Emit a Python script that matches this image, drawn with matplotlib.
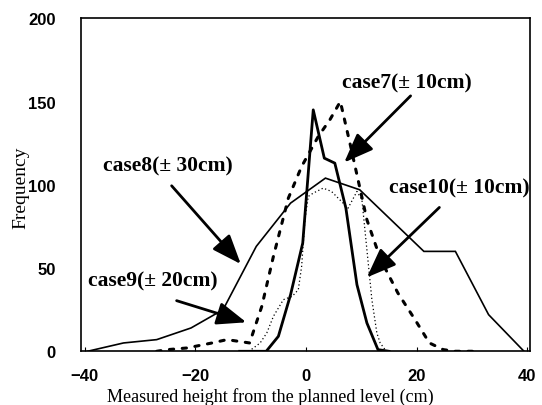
import matplotlib
matplotlib.use("Agg")
import matplotlib.pyplot as plt

# case8 (±30cm) thin solid
case8_x = [-39.5, -33, -27, -20.8, -15, -9, -2.8, 3.5, 9.7, 15.5, 21.3, 27.0, 33.0, 39.4]
case8_y = [0, 5, 7, 14, 25, 63, 89, 104, 97, 78.5, 60, 60, 22, 0]

# case7 (±10cm) thick solid
case7_x = [-12, -7.2, -5, -2.8, -0.6, 1.3, 3.3, 5.2, 7.2, 9.2, 11, 13, 15]
case7_y = [0, 0, 9, 34, 65, 145, 116, 113, 86, 40, 17, 1, 0]

# case9 (±20cm) heavy dotted
case9_x = [-27, -25, -21.5, -17, -14.3, -10.2, -9.2, -8, -5.9, -3.2, -0.8, 2.2,
           4.3, 6.2, 8, 9.8, 11, 13.5, 16.6, 19.7, 22.3, 24.8, 27, 31]
case9_y = [0, 1, 2, 5, 7, 5, 15, 27, 57, 92, 111, 129,
           139, 150, 124, 97, 79, 55, 35, 19, 5, 1, 0, 0]

# case10 (±10cm) fine dotted
case10_x = [-10.4, -9.5, -8.3, -7.1, -5.9, -4.1, -2.5, -1.4, -0.8, -0.2, 0.4, 1.3,
            3.1, 4.6, 6.1, 7.6, 9.2, 10.1, 10.7, 11.3, 11.9, 12.8, 13.4, 14.5]
case10_y = [0, 2, 5, 11, 21, 31, 33, 37, 51, 79, 93, 95,
            98, 96, 91, 86, 96, 91, 71, 51, 31, 11, 5, 0]

x_ticks = [-40, -20, 0, 20, 40]
y_ticks = [0, 50, 100, 150, 200]

labels = ["case7(\u00b1 10cm)", "case8(\u00b1 30cm)", "case10(\u00b1 10cm)", "case9(\u00b1 20cm)"]
label_xy = [(18.2, 161.4), (-24.9, 111.4), (27.7, 98.6), (-27.7, 42.8)]
arrow_tail = [(18.9, 153.4), (-24.3, 99.4), (24.1, 86.4), (-23.4, 30.4)]
arrow_tip = [(6.9, 113.4), (-11.8, 52.4), (11.0, 44.4), (-10.8, 17.4)]

fig = plt.figure(figsize=(5.42, 4.06), dpi=100)
ax = fig.add_axes([0.1489, 0.1323, 0.978 - 0.1489, 0.9525 - 0.1323])

ax.plot(case8_x, case8_y, color="black", lw=1.2, solid_joinstyle="miter")
ax.plot(case7_x, case7_y, color="black", lw=2.0)
ax.plot(case9_x, case9_y, color="black", lw=2.2, linestyle=(0, (1.4, 2.8)),
        dash_capstyle="round")
ax.plot(case10_x, case10_y, color="black", lw=0.9, linestyle=(0, (1, 2)))

serif = ["Liberation Serif", "DejaVu Serif"]
for txt, (tx, ty), tail, tip in zip(labels, label_xy, arrow_tail, arrow_tip):
    ax.text(tx, ty, txt, ha="center", va="center", fontsize=15.5,
            family=serif, fontweight="bold")
    ax.annotate("", xy=tip, xytext=tail,
                arrowprops=dict(arrowstyle="-|>,head_length=1.8,head_width=0.7",
                                mutation_scale=10, lw=2.0, color="black",
                                shrinkA=0, shrinkB=0))

ax.set_xlim(-40.74, 40.5)
ax.set_ylim(0, 200)
ax.set_xticks(x_ticks)
ax.set_yticks(y_ticks)
ax.set_xticklabels([str(v).replace("-", "\u2212") for v in x_ticks],
                   fontsize=12, fontweight="bold", family=["Liberation Sans", "DejaVu Sans"])
ax.set_yticklabels([str(v) for v in y_ticks],
                   fontsize=12, fontweight="bold", family=["Liberation Sans", "DejaVu Sans"])
ax.tick_params(axis="x", direction="in", length=3, pad=12)
ax.tick_params(axis="y", direction="in", length=0, pad=18)
for s in ax.spines.values():
    s.set_linewidth(1.2)

ax.set_xlabel("Measured height from the planned level (cm)", fontsize=13,
              family=serif, va="center")
ax.xaxis.set_label_coords(0.423, -0.135)
ax.set_ylabel("Frequency", fontsize=14, family=serif, va="center")
ax.yaxis.set_label_coords(-0.132, 0.495)

fig.savefig("out.png", dpi=100)
